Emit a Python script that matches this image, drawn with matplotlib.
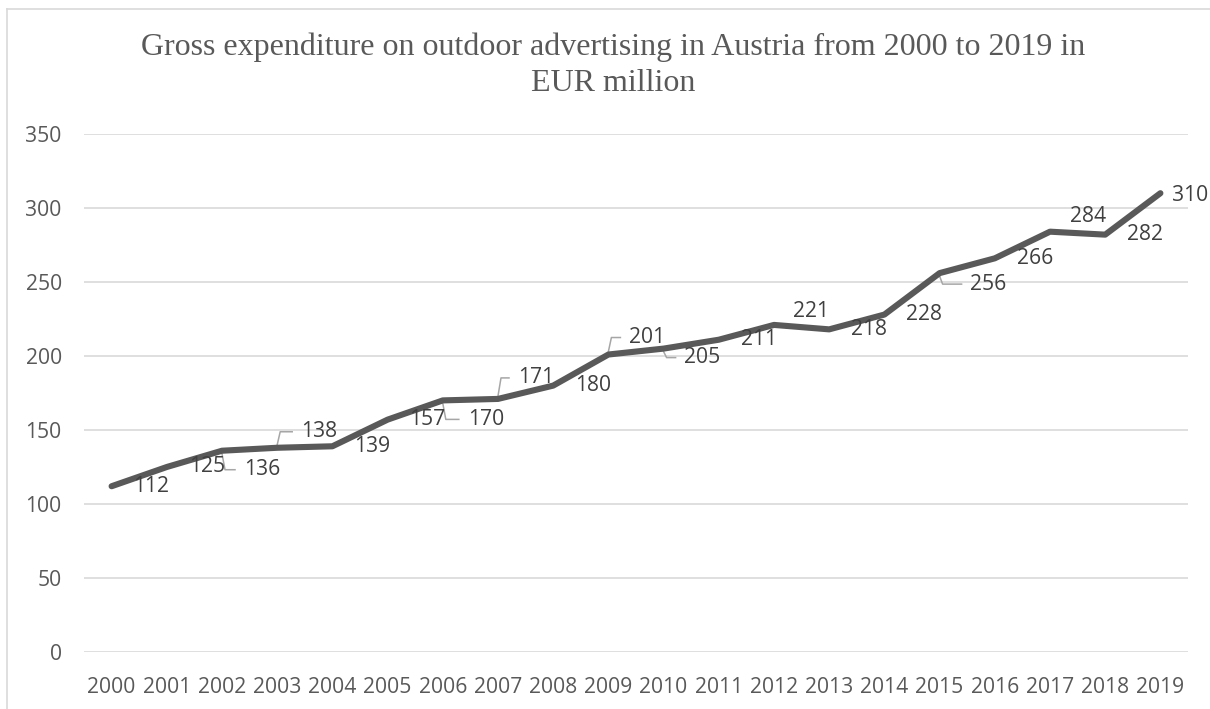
import matplotlib
matplotlib.use("Agg")
import matplotlib.pyplot as plt
import matplotlib.transforms as mtransforms
from matplotlib.lines import Line2D

# data
years = [str(y) for y in range(2000, 2020)]
values = [112, 125, 136, 138, 139, 157, 170, 171, 180, 201,
          205, 211, 221, 218, 228, 256, 266, 284, 282, 310]
y_ticks = [0, 50, 100, 150, 200, 250, 300, 350]
title = "Gross expenditure on outdoor advertising in Austria from 2000 to 2019 in\nEUR million"

# label offset from point (pixels, y up) and whether a leader line is drawn
label_pos = {
    2: (40, -19, True), 3: (42, 16, True), 6: (43, -19, True), 7: (38, 21, True),
    9: (39, 17, True), 10: (39, -9, True), 12: (37, 13, False), 15: (49, -11, True),
    17: (38, 15, False), 19: (30, -2, False),
}

W, H, DPI = 1210, 709, 100
GREY = "#595959"
FS = 15.2
fig = plt.figure(figsize=(W / DPI, H / DPI), dpi=DPI)
ax = fig.add_axes([84 / W, (H - 652) / H, (1188 - 84) / W, (652 - 134) / H])

x = list(range(len(years)))
ax.plot(x, values, color=GREY, lw=4.4, solid_capstyle="round",
        solid_joinstyle="round", zorder=3)

ax.set_xlim(-0.5, len(years) - 0.5)
ax.set_ylim(0, 350)
ax.set_yticks(y_ticks)
ax.set_xticks(x)
ax.set_xticklabels(years)
ax.grid(axis="y", color="#d9d9d9", lw=1.2)
ax.set_axisbelow(True)
for s in ax.spines.values():
    s.set_visible(False)
ax.tick_params(length=0, colors=GREY, labelsize=FS)
ax.tick_params(axis="y", pad=16)
ax.tick_params(axis="x", pad=18)
for lbl in ax.get_xticklabels() + ax.get_yticklabels():
    lbl.set_family("Open Sans")

for i, v in enumerate(values):
    dx, dy, lead = label_pos.get(i, (40, 0, False))
    ax.annotate(str(v), (i, v), xytext=(dx * 0.72, dy * 0.72),
                textcoords="offset points", ha="center", va="center",
                fontsize=FS, family="Open Sans", color="#404040", zorder=4)
    if lead:
        tr = fig.dpi_scale_trans + mtransforms.ScaledTranslation(i, v, ax.transData)
        sgn = 1 if dy > 0 else -1
        xs = [0, 3, dx - 27]
        ys = [sgn * 3, dy, dy]
        ax.add_line(Line2D([p / DPI for p in xs], [p / DPI for p in ys],
                           transform=tr, color="#a6a6a6", lw=1.1, zorder=2,
                           clip_on=False))

fig.text(613 / W, 1 - 33 / H, title, ha="center", va="top",
         family="Liberation Serif", fontsize=23, color=GREY, linespacing=1.3)

# chart area border (only left and top edges visible)
fig.add_artist(Line2D([7 / W, 7 / W], [0, 1 - 9 / H], color="#d9d9d9", lw=1.2,
                      transform=fig.transFigure))
fig.add_artist(Line2D([7 / W, 1], [1 - 9 / H, 1 - 9 / H], color="#d9d9d9", lw=1.2,
                      transform=fig.transFigure))

fig.savefig("out.png", dpi=DPI)
